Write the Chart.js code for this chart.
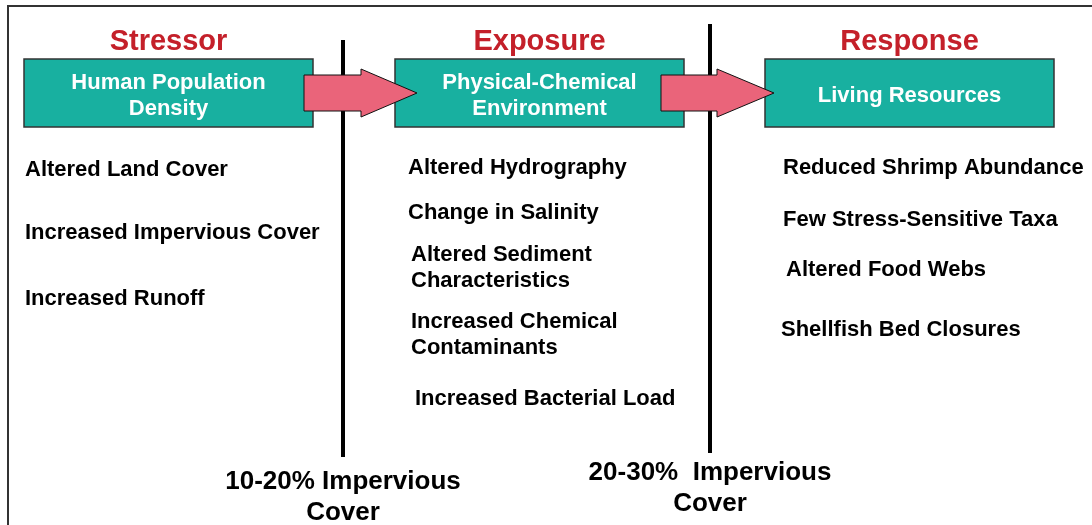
<!DOCTYPE html>
<html lang="en">
<head>
    <meta charset="UTF-8">
    <title>Stressor - Exposure - Response</title>
    <script src="https://cdn.jsdelivr.net/npm/chart.js"></script>
    <style>
        body { margin: 0; background: #fff; }
        #wrap { width: 1092px; height: 525px; }
    </style>
</head>
<body>
    <div id="wrap"><canvas id="diagram"></canvas></div>

    <script>
        // Diagram content
        const stages = ['Stressor', 'Exposure', 'Response'];
        const stageBoxes = [['Human Population', 'Density'], ['Physical-Chemical', 'Environment'], ['Living Resources']];
        const stressorItems = [['Altered Land Cover'], ['Increased Impervious Cover'], ['Increased Runoff']];
        const exposureItems = [['Altered Hydrography'], ['Change in Salinity'], ['Altered Sediment', 'Characteristics'],
                               ['Increased Chemical', 'Contaminants'], ['Increased Bacterial Load']];
        const responseItems = [['Reduced Shrimp Abundance'], ['Few Stress-Sensitive Taxa'], ['Altered Food Webs'], ['Shellfish Bed Closures']];
        const thresholds = [['10-20% Impervious', 'Cover'], ['20-30%  Impervious', 'Cover']];

        // Layout (in scale units, 0..1092 x 0..525)
        const stageLeft = [24, 395, 765];
        const boxWidth = 289, boxTop = 59, boxBottom = 127, headerY = 42;
        const itemX = [[25, 25, 25], [408, 408, 411, 411, 415], [783, 783, 786, 781]];
        const itemY = [[170, 233, 299], [168, 213, 255, 322, 399], [168, 220, 270, 330]];
        const lineX = [343, 710], lineTop = [40, 24], lineBottom = [457, 453];
        const thresholdY = [482, 473];
        const arrows = [[304, 361, 417], [661, 717, 774]];

        const teal = '#18b0a0', pink = '#ea647a', red = '#c4202a';
        const F = '"Liberation Sans", Arial, sans-serif';

        const diagramPlugin = {
            id: 'diagram',
            afterDatasetsDraw(chart) {
                const { ctx, scales: { x, y } } = chart;
                ctx.save();

                // outer frame
                ctx.strokeStyle = '#333';
                ctx.lineWidth = 2;
                ctx.strokeRect(x.getPixelForValue(8), y.getPixelForValue(6), 1200, 600);

                // headers and boxes
                stages.forEach((s, i) => {
                    const l = x.getPixelForValue(stageLeft[i]);
                    const r = x.getPixelForValue(stageLeft[i] + boxWidth);
                    const t = y.getPixelForValue(boxTop), b = y.getPixelForValue(boxBottom);
                    ctx.fillStyle = red;
                    ctx.font = 'bold 29px ' + F;
                    ctx.textAlign = 'center';
                    ctx.textBaseline = 'middle';
                    ctx.fillText(s, (l + r) / 2, y.getPixelForValue(headerY));

                    ctx.fillStyle = teal;
                    ctx.fillRect(l, t, r - l, b - t);
                    ctx.strokeStyle = '#333';
                    ctx.lineWidth = 1.5;
                    ctx.strokeRect(l, t, r - l, b - t);

                    ctx.fillStyle = '#fff';
                    ctx.font = 'bold 22px ' + F;
                    const lines = stageBoxes[i];
                    lines.forEach((ln, k) => {
                        ctx.fillText(ln, (l + r) / 2, (t + b) / 2 + (k - (lines.length - 1) / 2) * 26 + 3);
                    });
                });

                // arrows
                arrows.forEach(a => {
                    const x0 = x.getPixelForValue(a[0]), x1 = x.getPixelForValue(a[1]), x2 = x.getPixelForValue(a[2]);
                    const sTop = y.getPixelForValue(75), sBot = y.getPixelForValue(111);
                    const hTop = y.getPixelForValue(69), hBot = y.getPixelForValue(117), mid = y.getPixelForValue(93);
                    ctx.beginPath();
                    ctx.moveTo(x0, sTop);
                    ctx.lineTo(x1, sTop);
                    ctx.lineTo(x1, hTop);
                    ctx.lineTo(x2, mid);
                    ctx.lineTo(x1, hBot);
                    ctx.lineTo(x1, sBot);
                    ctx.lineTo(x0, sBot);
                    ctx.closePath();
                    ctx.fillStyle = pink;
                    ctx.fill();
                    ctx.strokeStyle = '#111';
                    ctx.lineWidth = 1;
                    ctx.stroke();
                });

                // item lists
                ctx.fillStyle = '#000';
                ctx.font = 'bold 22px ' + F;
                ctx.textAlign = 'left';
                [stressorItems, exposureItems, responseItems].forEach((items, i) => {
                    items.forEach((lines, j) => {
                        lines.forEach((ln, k) => {
                            ctx.fillText(ln, x.getPixelForValue(itemX[i][j]), y.getPixelForValue(itemY[i][j] + k * 26));
                        });
                    });
                });

                // threshold labels
                ctx.font = 'bold 26px ' + F;
                ctx.textAlign = 'center';
                thresholds.forEach((lines, i) => {
                    lines.forEach((ln, k) => {
                        ctx.fillText(ln, x.getPixelForValue(lineX[i]), y.getPixelForValue(thresholdY[i] + k * 31));
                    });
                });

                ctx.restore();
            }
        };

        window.onload = () => {
            const ctx = document.getElementById('diagram').getContext('2d');
            new Chart(ctx, {
                type: 'scatter',
                data: {
                    datasets: lineX.map((lx, i) => ({
                        label: thresholds[i].join(' '),
                        data: [{ x: lx, y: lineTop[i] }, { x: lx, y: lineBottom[i] }],
                        showLine: true,
                        borderColor: '#000',
                        borderWidth: 4,
                        pointRadius: 0
                    }))
                },
                options: {
                    responsive: true,
                    maintainAspectRatio: false,
                    animation: false,
                    layout: { padding: 0 },
                    plugins: { legend: { display: false }, tooltip: { enabled: false } },
                    scales: {
                        x: { type: 'linear', min: 0, max: 1092, display: false },
                        y: { type: 'linear', min: 0, max: 525, reverse: true, display: false }
                    }
                },
                plugins: [diagramPlugin]
            });
        };
    </script>
</body>
</html>
